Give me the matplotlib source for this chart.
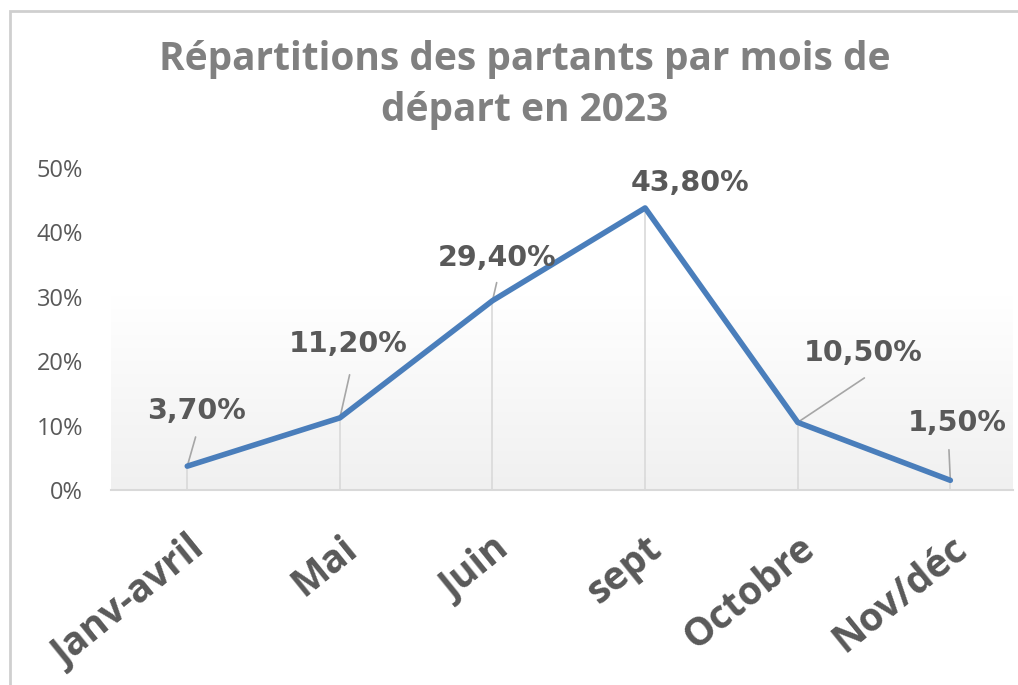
import matplotlib
matplotlib.use("Agg")
import matplotlib.pyplot as plt
import numpy as np
from matplotlib.patches import Rectangle

# data
categories = ["Janv-avril", "Mai", "Juin", "sept", "Octobre", "Nov/déc"]
values = [0.037, 0.112, 0.294, 0.438, 0.105, 0.015]
labels = ["3,70%", "11,20%", "29,40%", "43,80%", "10,50%", "1,50%"]
yticks = [0, 0.1, 0.2, 0.3, 0.4, 0.5]
ytick_labels = ["0%", "10%", "20%", "30%", "40%", "50%"]

# label centre offsets (points) from each point, and leader line ends (None = no leader)
label_offsets = [(6.5, 40), (6, 53), (3, 31), (32, 18), (47, 50), (5, 41)]
leader_ends = [(6, 21), (7, 31), (3, 13), None, (48, 32), (-1, 22)]

plt.rcParams["font.family"] = ["Open Sans", "DejaVu Sans"]

fig = plt.figure(figsize=(10.18, 6.85), dpi=100)
fig.patch.set_facecolor("white")

# outer frame like the excel chart box
frame = Rectangle((0.01, -0.01), 1.1, 0.994, transform=fig.transFigure,
                  fill=False, edgecolor="#cfcfcf", linewidth=2)
fig.patches.append(frame)

ax = fig.add_axes([0.109, 0.2847, 0.886, 0.470])
ax.set_xlim(-0.5, 5.41)
ax.set_ylim(0, 0.5)

# soft gradient in lower plot area
grad = np.linspace(0, 1, 256).reshape(-1, 1)
ax.imshow(grad, extent=[-0.5, 5.41, 0, 0.3], aspect="auto",
          cmap=matplotlib.colors.LinearSegmentedColormap.from_list("g", ["#f0f0f0", "#ffffff"]),
          origin="lower", zorder=0)

x = np.arange(len(categories))

# drop lines
ax.vlines(x, 0, values, colors="#d9d9d9", linewidth=1.2, zorder=1)

ax.plot(x, values, color="#4a7ebb", linewidth=4, solid_capstyle="round",
        solid_joinstyle="round", zorder=3, clip_on=False)

for i, (v, lab) in enumerate(zip(values, labels)):
    dx, dy = label_offsets[i]
    ax.annotate(lab, (i, v), xytext=(dx, dy), textcoords="offset points",
                ha="center", va="center", fontsize=20.5, fontweight="bold",
                color="#595959", family="DejaVu Sans",
                annotation_clip=False, zorder=4)
    if leader_ends[i] is not None:
        ax.annotate("", (i, v), xytext=leader_ends[i], textcoords="offset points",
                    arrowprops=dict(arrowstyle="-", color="#a6a6a6", lw=1.2,
                                    shrinkA=0, shrinkB=0),
                    annotation_clip=False, zorder=2)

for s in ["top", "right", "left"]:
    ax.spines[s].set_visible(False)
ax.spines["bottom"].set_color("#d9d9d9")
ax.spines["bottom"].set_linewidth(1.5)

ax.set_yticks(yticks)
ax.set_yticklabels(ytick_labels, fontsize=17, color="#595959")
ax.tick_params(axis="y", length=0, pad=20)
ax.set_xticks(x)
ax.set_xticklabels(categories, fontsize=28, fontweight="bold", color="#595959",
                   rotation=39, ha="right", rotation_mode="anchor")
ax.tick_params(axis="x", length=0, pad=28)

fig.text(0.515, 0.876, "Répartitions des partants par mois de\ndépart en 2023",
         ha="center", va="center", fontsize=28, fontweight="bold",
         color="#808080", linespacing=1.4)

fig.savefig("out.png", dpi=100)
